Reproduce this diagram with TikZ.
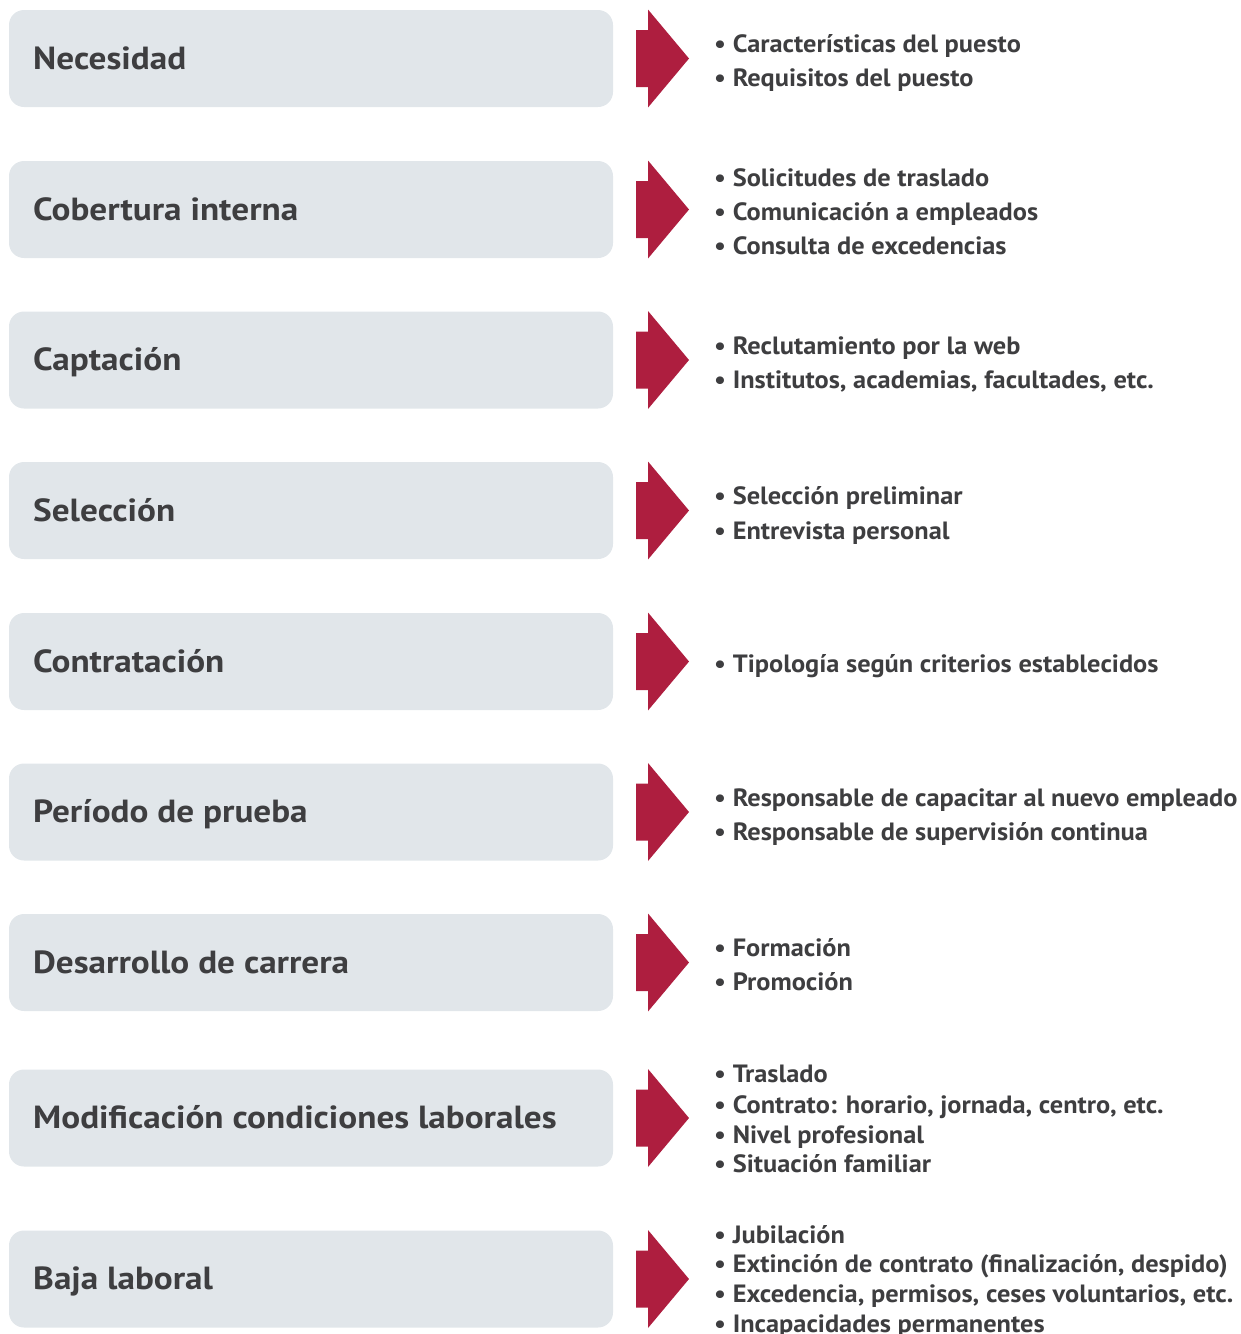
\documentclass[tikz,border=0pt]{standalone}
\usepackage{fontspec}
\setmainfont{PT Sans}
\newfontfamily\lblfont[FakeStretch=1.10]{PT Sans}
\newfontfamily\itmfont[FakeStretch=1.055]{PT Sans}
\definecolor{boxgray}{HTML}{E1E6EA}
\definecolor{arrowred}{HTML}{AE1E3F}
\definecolor{txt}{HTML}{3E3E40}
\tikzset{
  box/.style={fill=boxgray, rounded corners=15pt, minimum width=604pt, minimum height=97pt, inner sep=0pt},
  lbl/.style={anchor=base west, inner sep=0pt, font=\lblfont\fontsize{32}{32}\selectfont\bfseries, text=txt},
  itm/.style={anchor=base west, inner sep=0pt, font=\itmfont\fontsize{25}{25}\selectfont\bfseries, text=txt},
  harrow/.pic={\fill[arrowred] (0,-28.5) -- (12,-28.5) -- (12,-49) -- (53,0) -- (12,49) -- (12,28.5) -- (0,28.5) -- cycle;}
}
\begin{document}
\begin{tikzpicture}[x=1pt,y=-1pt]
\useasboundingbox (0,0) rectangle (1241,1334);
\foreach \c [count=\i] in {58.5,209.5,360,510.5,661.5,812,962.5,1118,1279} {
  \node[box] (b\i) at (311,\c) {};
  \pic at (636,\c) {harrow};
}
\node[lbl] (l1) at (33,69) {Necesidad};
\node[lbl] (l2) at (33,220) {Cobertura interna};
\node[lbl] (l3) at (33,370.5) {Captación};
\node[lbl] (l4) at (33,521) {Selección};
\node[lbl] (l5) at (33,672) {Contratación};
\node[lbl] (l6) at (33,822.5) {Período de prueba};
\node[lbl] (l7) at (33,973) {Desarrollo de carrera};
\node[lbl] (l8) at (33,1128.5) {Modificación condiciones laborales};
\node[lbl] (l9) at (33,1289.5) {Baja laboral};

\node[itm] (i1a) at (714,52) {• Características del puesto};
\node[itm] (i1b) at (714,86) {• Requisitos del puesto};
\node[itm] (i2a) at (714,186) {• Solicitudes de traslado};
\node[itm] (i2b) at (714,220) {• Comunicación a empleados};
\node[itm] (i2c) at (714,254) {• Consulta de excedencias};
\node[itm] (i3a) at (714,354) {• Reclutamiento por la web};
\node[itm] (i3b) at (714,388) {• Institutos, academias, facultades, etc.};
\node[itm] (i4a) at (714,504) {• Selección preliminar};
\node[itm] (i4b) at (714,539) {• Entrevista personal};
\node[itm] (i5a) at (714,672) {• Tipología según criterios establecidos};
\node[itm] (i6a) at (714,806) {• Responsable de capacitar al nuevo empleado};
\node[itm] (i6b) at (714,840) {• Responsable de supervisión continua};
\node[itm] (i7a) at (714,956) {• Formación};
\node[itm] (i7b) at (714,990) {• Promoción};
\node[itm] (i8a) at (714,1082) {• Traslado};
\node[itm] (i8b) at (714,1113) {• Contrato: horario, jornada, centro, etc.};
\node[itm] (i8c) at (714,1143) {• Nivel profesional};
\node[itm] (i8d) at (714,1172) {• Situación familiar};
\node[itm] (i9a) at (714,1243) {• Jubilación};
\node[itm] (i9b) at (714,1272) {• Extinción de contrato (finalización, despido)};
\node[itm] (i9c) at (714,1302) {• Excedencia, permisos, ceses voluntarios, etc.};
\node[itm] (i9d) at (714,1332) {• Incapacidades permanentes};
\end{tikzpicture}
\end{document}
